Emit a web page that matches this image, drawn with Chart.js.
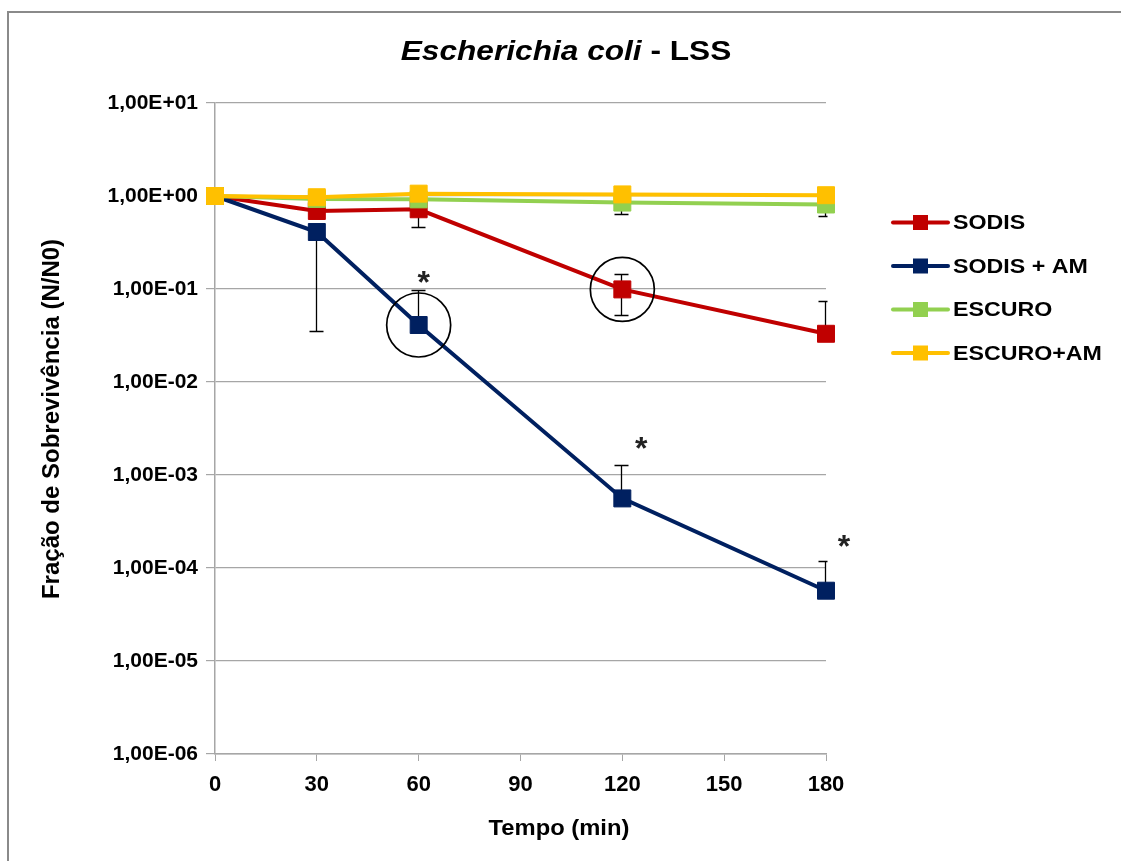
<!DOCTYPE html>
<html>
<head>
<meta charset="utf-8">
<title>Escherichia coli - LSS</title>
<script src="https://cdn.jsdelivr.net/npm/chart.js@4/dist/chart.umd.min.js"></script>
<style>
  html, body { margin: 0; padding: 0; background: #ffffff; }
  #wrap { position: relative; width: 1121px; height: 861px; overflow: hidden; }
  #frame { position: absolute; left: 7px; top: 11px; right: -4px; bottom: -4px;
           border-top: 2px solid #8a8a8a; border-left: 2px solid #8a8a8a; pointer-events: none; }
  canvas { display: block; }
</style>
</head>
<body>
<div id="wrap">
  <canvas id="chart" width="1121" height="861"></canvas>
  <div id="frame"></div>
</div>
<script>
// Sampling times (min)
const times = [0, 30, 60, 120, 180];

// Survival fraction N/N0 per condition
const seriesNames  = ['SODIS', 'SODIS + AM', 'ESCURO', 'ESCURO+AM'];
const seriesColors = ['#C00000', '#002060', '#92D050', '#FFC000'];
const sodis    = [1.00, 0.69, 0.72, 0.099, 0.033];
const sodisAM  = [1.00, 0.41, 0.041, 0.00056, 0.000057];
const escuro   = [1.00, 0.93, 0.92, 0.85, 0.81];
const escuroAM = [1.00, 0.97, 1.06, 1.04, 1.02];

// Error bar ends (null where no bar is shown)
const sodisHi    = [null, null, null, 0.144, 0.074];
const sodisLo    = [null, null, 0.46, 0.053, null];
const sodisAMHi  = [null, null, 0.097, 0.00128, 0.000119];
const sodisAMLo  = [null, 0.035, null, null, null];
const escuroHi   = [null, null, null, null, null];
const escuroLo   = [null, null, null, 0.64, 0.61];
const escuroAMHi = [null, null, null, null, null];
const escuroAMLo = [null, null, null, null, null];

// Significance marks (*) on SODIS + AM
const sodisAMSignif = [false, false, true, true, true];
// Highlighted points: [series index, time]
const highlighted = [[1, 60], [0, 120]];

// Axis ticks
const xTicks = [0, 30, 60, 90, 120, 150, 180];
const yTicks = [1e-6, 1e-5, 1e-4, 1e-3, 1e-2, 1e-1, 1, 10];
const yTickLabels = ['1,00E-06', '1,00E-05', '1,00E-04', '1,00E-03', '1,00E-02', '1,00E-01', '1,00E+00', '1,00E+01'];

const chartTitleItalic = 'Escherichia coli';
const chartTitleRest = ' - LSS';
const xTitle = 'Tempo (min)';
const yTitle = 'Fração de Sobrevivência (N/N0)';

const FONT = '"Liberation Sans", Arial, sans-serif';
const GRID = '#a6a6a6';

const values = [sodis, sodisAM, escuro, escuroAM];
const highs = [sodisHi, sodisAMHi, escuroHi, escuroAMHi];
const lows  = [sodisLo, sodisAMLo, escuroLo, escuroAMLo];
const signif = [null, sodisAMSignif, null, null];

const datasets = values.map((arr, k) => ({
  label: seriesNames[k],
  data: times.map((t, i) => ({ x: t, y: arr[i] })),
  borderColor: seriesColors[k],
  backgroundColor: seriesColors[k],
  pointBackgroundColor: seriesColors[k],
  pointBorderColor: seriesColors[k],
  borderWidth: 4,
  pointStyle: 'rect',
  pointRadius: 12,
  pointBorderWidth: 1,
  tension: 0,
  clip: false,
  order: values.length - k,
  errHi: highs[k],
  errLo: lows[k],
  signif: signif[k]
}));

// Text drawn with a horizontal stretch along its own direction
function stretchedText(ctx, text, x, y, sx, align) {
  ctx.save();
  ctx.translate(x, y);
  ctx.scale(sx, 1);
  ctx.textAlign = align;
  ctx.fillText(text, 0, 0);
  ctx.restore();
}

// Error bars, drawn beneath the series
const errorBars = {
  id: 'errorBars',
  beforeDatasetsDraw(chart) {
    const { ctx, chartArea: a, scales: { x, y } } = chart;
    ctx.save();
    ctx.beginPath();
    ctx.rect(a.left - 20, a.top, a.right - a.left + 21.5, a.bottom - a.top);
    ctx.clip();
    ctx.strokeStyle = '#000000';
    ctx.lineWidth = 1.3;
    const cap = 7;
    chart.data.datasets.forEach(ds => {
      ds.data.forEach((p, i) => {
        const px = Math.round(x.getPixelForValue(p.x)) - 0.5;
        const py = y.getPixelForValue(p.y);
        [ds.errHi[i], ds.errLo[i]].forEach(v => {
          if (v == null) return;
          const ey = Math.round(y.getPixelForValue(v)) + 0.5;
          ctx.beginPath();
          ctx.moveTo(px, py);
          ctx.lineTo(px, ey);
          ctx.moveTo(px - cap, ey);
          ctx.lineTo(px + cap, ey);
          ctx.stroke();
        });
      });
    });
    ctx.restore();
  }
};

// Circles around highlighted points and significance asterisks
const annotations = {
  id: 'annotations',
  afterDatasetsDraw(chart, args, opts) {
    const { ctx, scales: { x, y } } = chart;
    const dsList = chart.data.datasets;
    ctx.save();
    ctx.strokeStyle = '#000000';
    ctx.lineWidth = 1.7;
    highlighted.forEach(([k, t]) => {
      const i = times.indexOf(t);
      const cx = x.getPixelForValue(t);
      const cy = y.getPixelForValue(dsList[k].data[i].y);
      ctx.beginPath();
      ctx.arc(cx, cy, 32, 0, Math.PI * 2);
      ctx.stroke();
    });
    ctx.fillStyle = '#222222';
    ctx.font = 'bold 32px "Liberation Sans", Arial, sans-serif';
    ctx.textAlign = 'center';
    ctx.textBaseline = 'alphabetic';
    const m = ctx.measureText('*');
    const mid = (m.actualBoundingBoxAscent - m.actualBoundingBoxDescent) / 2;
    dsList.forEach(ds => {
      if (!ds.signif) return;
      ds.signif.forEach((s, i) => {
        if (!s) return;
        const top = ds.errHi[i] != null ? ds.errHi[i] : ds.data[i].y;
        const off = opts.starOffsets[i] || [0, -15];
        const cx = x.getPixelForValue(times[i]) + off[0];
        const cy = y.getPixelForValue(top) + off[1];
        ctx.fillText('*', cx, cy + mid);
      });
    });
    ctx.restore();
  }
};

// Title, axis titles and legend
const labels = {
  id: 'labels',
  afterDraw(chart) {
    const { ctx } = chart;
    ctx.save();
    ctx.fillStyle = '#000000';
    ctx.textBaseline = 'alphabetic';
    // chart title
    const fi = 'italic bold 28px ' + FONT;
    const fb = 'bold 28px ' + FONT;
    const sx = 1.13;
    ctx.font = fi; const w1 = ctx.measureText(chartTitleItalic).width;
    ctx.font = fb; const w2 = ctx.measureText(chartTitleRest).width;
    const start = 566 - (w1 + w2) * sx / 2;
    ctx.save();
    ctx.translate(start, 60);
    ctx.scale(sx, 1);
    ctx.textAlign = 'left';
    ctx.font = fi; ctx.fillText(chartTitleItalic, 0, 0);
    ctx.font = fb; ctx.fillText(chartTitleRest, w1, 0);
    ctx.restore();
    // x axis title
    ctx.font = 'bold 22px ' + FONT;
    ctx.textBaseline = 'middle';
    stretchedText(ctx, xTitle, 559, 829, 1.08, 'center');
    // y axis title
    ctx.save();
    ctx.translate(52, 419);
    ctx.rotate(-Math.PI / 2);
    ctx.font = 'bold 24px ' + FONT;
    ctx.textAlign = 'center';
    ctx.fillText(yTitle, 0, 0);
    ctx.restore();
    // legend
    const lx = 893, ly = 222.5, dy = 43.5, len = 55;
    chart.data.datasets.forEach((ds, k) => {
      const yy = ly + k * dy;
      ctx.strokeStyle = ds.borderColor;
      ctx.lineWidth = 4;
      ctx.lineCap = 'round';
      ctx.beginPath();
      ctx.moveTo(lx, yy);
      ctx.lineTo(lx + len, yy);
      ctx.stroke();
      ctx.fillStyle = ds.borderColor;
      ctx.fillRect(lx + len / 2 - 7.5, yy - 7.5, 15, 15);
      ctx.fillStyle = '#000000';
      ctx.font = 'bold 20px ' + FONT;
      stretchedText(ctx, ds.label, lx + len + 5, yy + 1, 1.16, 'left');
    });
    ctx.restore();
  }
};

new Chart(document.getElementById('chart'), {
  type: 'line',
  data: { datasets },
  plugins: [errorBars, annotations, labels],
  options: {
    responsive: false,
    animation: false,
    layout: { padding: { left: 0, top: 103, right: 295, bottom: 0 } },
    plugins: {
      legend: { display: false },
      title: { display: false },
      tooltip: { enabled: false },
      annotations: { starOffsets: { 2: [5, -13], 3: [19, -22], 4: [18, -20] } }
    },
    scales: {
      x: {
        type: 'linear',
        min: 0,
        max: 180,
        afterBuildTicks: s => { s.ticks = xTicks.map(v => ({ value: v })); },
        afterFit: s => { s.height = 107; },
        grid: { drawOnChartArea: false, drawTicks: true, tickLength: 7, color: GRID, tickColor: GRID },
        border: { display: true, color: GRID, width: 1.5 },
        ticks: {
          color: '#000000',
          font: { family: FONT, size: 22, weight: 'bold' },
          padding: 11,
          maxRotation: 0,
          callback: v => String(v)
        }
      },
      y: {
        type: 'logarithmic',
        min: 1e-6,
        max: 10,
        afterBuildTicks: s => { s.ticks = yTicks.map(v => ({ value: v })); },
        afterFit: s => { s.width = 215; },
        grid: { drawOnChartArea: true, drawTicks: true, tickLength: 9, color: GRID, tickColor: GRID, lineWidth: 1.2 },
        border: { display: true, color: GRID, width: 1.5 },
        ticks: {
          color: '#000000',
          font: { family: FONT, size: 21, weight: 'bold' },
          padding: 8,
          callback: (v, i) => yTickLabels[i]
        }
      }
    }
  }
});
</script>
</body>
</html>
